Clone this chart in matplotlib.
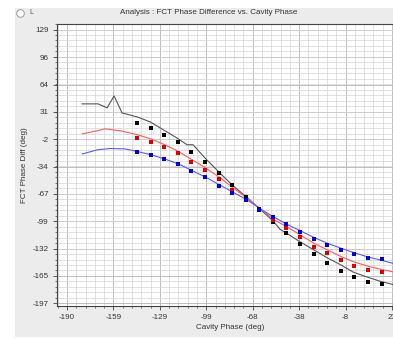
import numpy as np
import matplotlib
matplotlib.use("Agg")
import matplotlib.pyplot as plt
from matplotlib.ticker import AutoMinorLocator, FixedLocator
from matplotlib.patches import Rectangle

plt.rcParams['font.family'] = ['Liberation Sans', 'DejaVu Sans']

# measured points (cavity phase, deg)
pts_x = [-144.2, -135.3, -126.4, -117.5, -108.6, -99.7, -90.8, -81.9, -73.0, -64.1,
         -55.2, -46.3, -37.4, -28.5, -19.6, -10.7, -1.8, 7.1, 16.0]
black_pts = [18.1, 12.2, 3.8, -4.5, -16.4, -28.3, -41.5, -55.8, -70.1, -84.4,
             -99.9, -113.0, -126.1, -138.0, -148.7, -158.3, -165.4, -171.4, -173.8]
red_pts = [0.3, -4.5, -10.5, -17.6, -28.3, -37.9, -48.6, -61.7, -73.6, -85.6,
           -97.5, -107.0, -117.7, -129.7, -136.8, -145.2, -152.3, -157.1, -159.5]
blue_pts = [-16.4, -20.0, -24.8, -30.7, -39.1, -46.2, -56.9, -65.3, -73.6, -85.6,
            -93.9, -102.2, -111.8, -120.1, -127.3, -133.2, -138.0, -142.8, -144.0]

# model curves
gray_x = [-180.2, -169.7, -163.8, -159.2, -154.0, -144.2, -135.6, -127.1, -118.0,
          -111.4, -107.5, -99.6, -89.8, -81.3, -72.1, -63.6, -55.1, -50.5, -45.9,
          -37.4, -28.9, -19.7, -11.2, -2.7, 6.5, 15.0, 23.5]
gray_y = [40.8, 40.8, 36.0, 50.3, 30.0, 25.3, 19.3, 10.0, 0.0,
          -8.0, -8.0, -24.0, -42.0, -57.0, -71.0, -85.0, -99.0, -109.0, -114.0,
          -124.0, -133.0, -143.0, -151.0, -160.0, -166.0, -171.0, -175.0]
red_x = [-180, -172, -165, -155, -144, -135, -126, -117, -108, -99, -90, -81, -72,
         -63, -55, -46, -37, -28, -19, -10, -2, 7, 16, 24]
red_y = [5, 8, 11, 8.6, 4, -1, -8, -16, -26, -36, -47, -60, -72,
         -85, -97, -106, -116, -126, -134, -142, -148, -153, -157, -160]
blue_x = [-180, -170, -162, -152, -144, -135, -126, -117, -108, -99, -90, -81, -72,
          -63, -55, -46, -37, -28, -19, -10, -2, 7, 16, 24]
blue_y = [-19, -14, -12.5, -13, -16, -20, -25, -31, -39, -47, -56, -65, -74,
          -85, -94, -103, -111, -119, -126, -132, -137, -142, -146, -150]

xticks = [-190, -159.6, -129.2, -98.8, -68.4, -38.0, -7.6, 22.8]
xtick_labels = ['-190', '-159', '-129', '-99', '-68', '-38', '-8', '23']
yticks = [129.2, 96.5, 63.8, 31.2, -1.5, -34.1, -66.8, -99.4, -132.1, -164.7, -197.4]
ytick_labels = ['129', '96', '64', '31', '-2', '-34', '-67', '-99', '-132', '-165', '-197']

fig = plt.figure(figsize=(3.93, 3.39), dpi=100)
fig.patch.set_facecolor('white')
fig.patches.append(Rectangle((15 / 393, 2 / 339), 1, 329 / 339, transform=fig.transFigure,
                             facecolor='#ececec', edgecolor='none', zorder=-10))
# radio button + label at top-left
fig.lines.append(plt.Line2D([20 / 393], [1 - 13 / 339], transform=fig.transFigure,
                            marker='o', ms=5.5, mfc='white', mec='#9a9a9a', mew=0.7))
fig.text(29 / 393, 1 - 13 / 339, 'L', fontsize=5, color='#555555', va='center')
fig.text(0.53, 1 - 13 / 339, 'Analysis : FCT Phase Difference vs. Cavity Phase',
         fontsize=5.8, color='#333333', ha='center', va='center')

ax = fig.add_axes([57 / 393, 33 / 339, 346 / 393, 282 / 339])
ax.set_facecolor('white')

ax.plot(gray_x, gray_y, color='#555555', lw=0.8, zorder=3)
ax.plot(red_x, red_y, color='#ff5a5a', lw=0.8, zorder=3)
ax.plot(blue_x, blue_y, color='#5a5aff', lw=0.8, zorder=3)
ax.plot(pts_x, black_pts, 's', color='black', ms=2.3, mew=0, zorder=4)
ax.plot(pts_x, red_pts, 's', color='#e00000', ms=2.3, mew=0, zorder=4)
ax.plot(pts_x, blue_pts, 's', color='#0000e0', ms=2.3, mew=0, zorder=4)

ax.set_xlim(-196.6, 30)
ax.set_ylim(-200.6, 136.2)
ax.xaxis.set_major_locator(FixedLocator(xticks))
ax.set_xticklabels(xtick_labels)
ax.yaxis.set_major_locator(FixedLocator(yticks))
ax.set_yticklabels(ytick_labels)
ax.xaxis.set_minor_locator(AutoMinorLocator(5))
ax.yaxis.set_minor_locator(AutoMinorLocator(5))

ax.grid(which='major', color='#b4b4b4', lw=0.6)
ax.grid(which='minor', color='#d4d4d4', lw=0.5)
ax.set_axisbelow(True)

ax.tick_params(which='major', length=3, width=0.6, colors='#444444', labelsize=5.8,
               labelcolor='#333333', pad=3)
ax.tick_params(which='minor', length=1.5, width=0.5, colors='#444444')
for s in ['left', 'bottom', 'top']:
    ax.spines[s].set_color('#444444')
    ax.spines[s].set_linewidth(0.8)

ax.set_xlabel('Cavity Phase (deg)', fontsize=5.8, color='#333333', labelpad=2)
ax.set_ylabel('FCT Phase Diff (deg)', fontsize=5.8, color='#333333', labelpad=3)

fig.savefig('out.png', dpi=100)
